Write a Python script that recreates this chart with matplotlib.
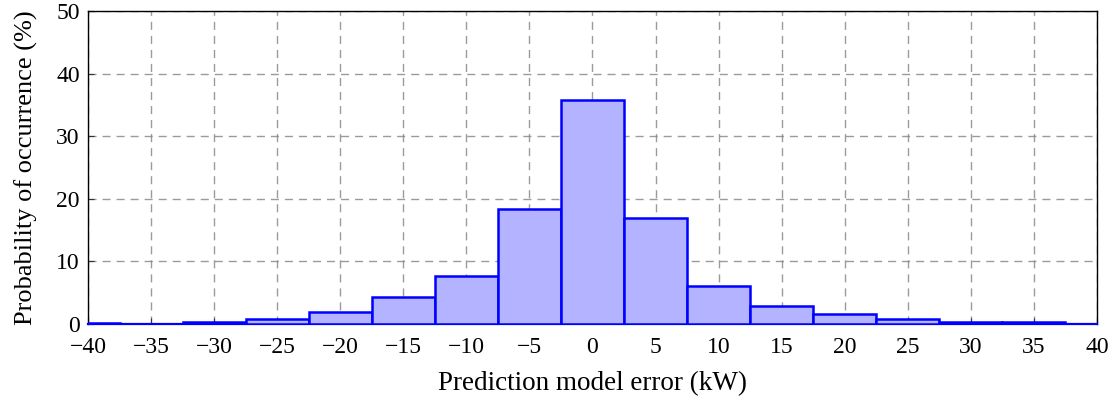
import numpy as np
import matplotlib.pyplot as plt

plt.rcParams['font.family'] = ['Liberation Serif', 'DejaVu Serif']

# bin centres (kW) and probability of occurrence (%)
centers = [-40, -35, -30, -25, -20, -15, -10, -5, 0, 5, 10, 15, 20, 25, 30, 35, 40]
probs = [0.1, 0.05, 0.35, 0.75, 1.9, 4.3, 7.7, 18.3, 35.8, 16.9, 6.1, 2.9, 1.6, 0.8, 0.35, 0.25, 0.0]
xticks = list(range(-40, 41, 5))
yticks = [0, 10, 20, 30, 40, 50]

fig = plt.figure(figsize=(11.16, 4.03), dpi=100)
ax = fig.add_axes([0.0789, 0.196, 0.904, 0.777])

ax.bar(centers, probs, width=5, color=(0.7, 0.7, 1.0), edgecolor=(0, 0, 1),
       linewidth=1.8, zorder=5)

ax.set_xlim(-40, 40)
ax.set_ylim(0, 50)
ax.set_xticks(xticks)
ax.set_yticks(yticks)
ax.set_xticklabels([str(t).replace('-', '\u2212') for t in xticks])
ax.grid(True, linestyle=(0, (5.8, 4.3)), color='#8a8a8a', alpha=0.85, linewidth=1.0, zorder=1)
ax.tick_params(direction='in', length=4, labelsize=17, color='#333333')
ax.tick_params(axis='x', pad=9)
ax.tick_params(axis='y', pad=6)
for s in ax.spines.values():
    s.set_color('black')
    s.set_linewidth(1.0)
    s.set_zorder(4)
# baseline of the histogram is drawn in the bar colour
ax.spines['bottom'].set_color((0, 0, 1))
ax.spines['bottom'].set_linewidth(1.6)

ax.set_xlabel('Prediction model error (kW)', fontsize=19.5, labelpad=10)
ax.set_ylabel('Probability of occurrence (%)', fontsize=19, labelpad=13)

plt.savefig('out.png', dpi=100)
